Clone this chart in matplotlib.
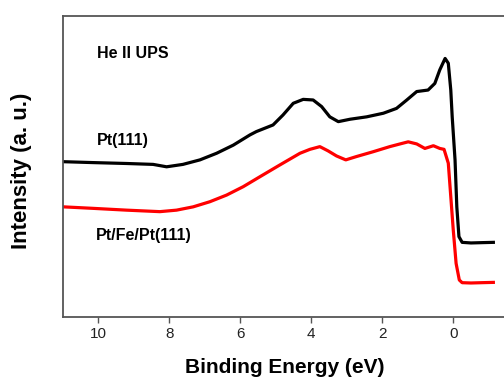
import matplotlib
matplotlib.use("Agg")
import matplotlib.pyplot as plt

plt.rcParams['font.family'] = ['Liberation Sans', 'DejaVu Sans']

# Binding energy (eV) and intensity (a.u.)
pt111_energy = [11.0, 10.16, 9.21, 8.46, 8.08, 7.62, 7.14, 6.67, 6.2, 5.73, 5.55, 5.08,
                4.80, 4.51, 4.23, 3.95, 3.71, 3.48, 3.24, 2.91, 2.44, 1.97, 1.60, 1.31,
                1.03, 0.71, 0.52, 0.38, 0.23, 0.14, 0.07, 0.03, -0.05, -0.10, -0.16,
                -0.25, -0.5, -0.8, -1.13]
pt111_intensity = [51.6, 51.3, 51.0, 50.7, 49.9, 50.7, 52.2, 54.4, 57.1, 60.5, 61.6, 63.8,
                   67.1, 71.0, 72.3, 72.1, 69.9, 66.5, 64.9, 65.7, 66.5, 67.7, 69.3, 72.1,
                   74.9, 75.4, 77.6, 82.1, 85.9, 84.3, 75.4, 66.5, 52.2, 36.6, 26.7,
                   24.8, 24.6, 24.7, 24.8]

ptfept_energy = [11.0, 10.16, 9.21, 8.27, 7.8, 7.33, 6.86, 6.39, 5.92, 5.45, 4.89, 4.32,
                 4.04, 3.76, 3.53, 3.29, 3.03, 2.73, 2.26, 1.79, 1.50, 1.27, 1.03, 0.80,
                 0.56, 0.38, 0.26, 0.14, 0.07, 0.0, -0.08, -0.17, -0.25, -0.5, -0.8, -1.13]
ptfept_intensity = [36.6, 36.1, 35.5, 35.0, 35.5, 36.6, 38.3, 40.5, 43.3, 46.6, 50.5, 54.4,
                    55.7, 56.6, 55.2, 53.5, 52.2, 53.3, 54.9, 56.6, 57.5, 58.2, 57.5, 56.0,
                    56.9, 56.0, 55.7, 51.1, 40.0, 28.9, 17.8, 12.3, 11.4, 11.3, 11.4, 11.5]

xticks = [10, 8, 6, 4, 2, 0]

fig = plt.figure(figsize=(5.04, 3.78), dpi=100)
ax = fig.add_axes([63/504, 61/378, 441/504, 301/378])

ax.plot(pt111_energy, pt111_intensity, color='black', lw=2.3, solid_joinstyle='round')
ax.plot(ptfept_energy, ptfept_intensity, color='#ff0000', lw=2.3, solid_joinstyle='round')

ax.set_xlim(11.0, -1.43)
ax.set_ylim(0, 100)
ax.set_xticks(xticks)
ax.set_xticklabels([str(t) for t in xticks])
ax.set_yticks([])

for s in ['left', 'bottom', 'top']:
    ax.spines[s].set_color('#555555')
    ax.spines[s].set_linewidth(1.3)
ax.spines['right'].set_visible(False)
ax.tick_params(axis='x', direction='out', length=4.5, width=1.0, color='#555555',
               labelsize=11, labelcolor='#222222', pad=3)

ax.text(10.05, 87.4, 'He II UPS', fontsize=11.5, fontweight='bold', ha='left', va='center')
ax.text(10.04, 58.8, 'Pt(111)', fontsize=11.5, fontweight='bold', ha='left', va='center')
ax.text(10.06, 27.2, 'Pt/Fe/Pt(111)', fontsize=11.5, fontweight='bold', ha='left', va='center')

fig.text(285/504, 1 - 367.8/378, 'Binding Energy (eV)', fontsize=15, fontweight='bold',
         ha='center', va='center')
fig.text(22/504, 1 - 171/378, 'Intensity (a. u.)', fontsize=16, fontweight='bold',
         ha='center', va='center', rotation=90)

fig.savefig('out.png', dpi=100)
